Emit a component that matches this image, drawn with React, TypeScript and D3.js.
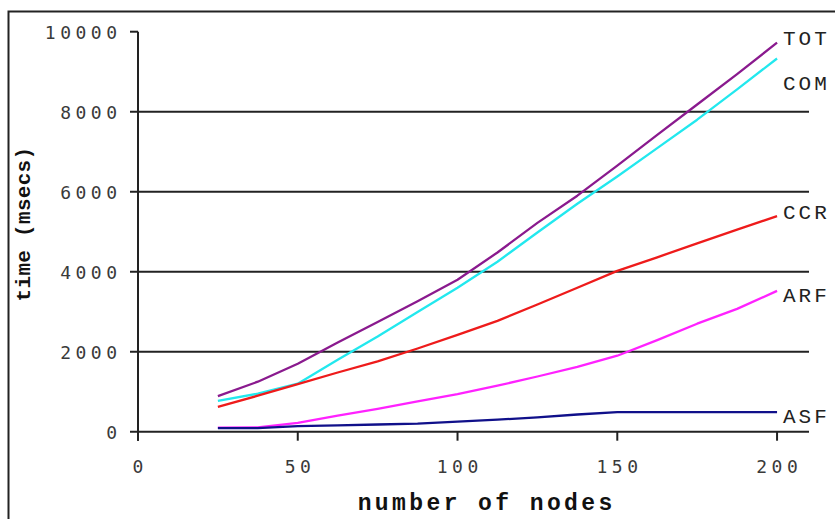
import { useEffect, useRef } from 'react';
import * as d3 from 'd3';

// number of nodes
const nodes = [25, 37.5, 50, 62.5, 75, 87.5, 100, 112.5, 125, 137.5, 150, 162.5, 175, 187.5, 200];

// time (msecs) per series
const tot = [890, 1250, 1700, 2230, 2740, 3260, 3800, 4480, 5220, 5900, 6650, 7420, 8180, 8940, 9725];
const com = [770, 950, 1200, 1800, 2380, 2990, 3600, 4250, 4980, 5700, 6380, 7090, 7800, 8560, 9330];
const ccr = [620, 900, 1190, 1480, 1760, 2080, 2420, 2770, 3180, 3600, 4020, 4360, 4710, 5050, 5390];
const arf = [100, 110, 220, 400, 570, 760, 940, 1150, 1380, 1620, 1900, 2290, 2700, 3070, 3520];
const asf = [90, 90, 140, 160, 180, 200, 250, 300, 360, 430, 490, 490, 490, 490, 490];

const seriesNames = ['TOT', 'COM', 'CCR', 'ARF', 'ASF'];
const seriesValues = [tot, com, ccr, arf, asf];
const seriesColors = ['#8a1a8e', '#22e8ee', '#ee1b1b', '#ff22ff', '#10108a'];
// where the end labels sit (in msecs), nudged apart like the original
const labelAt = [9870, 8740, 5520, 3440, 420];

const yTicks = [0, 2000, 4000, 6000, 8000, 10000];
const xTicks = [0, 50, 100, 150, 200];

const W = 835;
const H = 519;

export default function App() {
  const svgRef = useRef<SVGSVGElement>(null);

  useEffect(() => {
    if (!svgRef.current) return;
    const svg = d3.select(svgRef.current);
    svg.selectAll('*').remove();

    const x = d3.scaleLinear().domain([0, 210]).range([138, 809]);
    const y = d3.scaleLinear().domain([0, 10000]).range([431.7, 31.7]);

    // outer frame
    svg.append('rect')
      .attr('x', 8.5).attr('y', 11.5)
      .attr('width', 900).attr('height', 600)
      .attr('fill', '#fff')
      .attr('stroke', '#222')
      .attr('stroke-width', 2);

    const tickFont = '"DejaVu Sans Mono", monospace';
    const ls = 4.5;

    // horizontal grid + y ticks
    yTicks.forEach(t => {
      svg.append('line')
        .attr('x1', 130)
        .attr('x2', t === 10000 ? x(0) : x(210))
        .attr('y1', y(t)).attr('y2', y(t))
        .attr('stroke', '#222')
        .attr('stroke-width', 2);
      svg.append('text')
        .attr('x', 117 + ls)
        .attr('y', y(t) + 7)
        .attr('text-anchor', 'end')
        .attr('font-family', tickFont)
        .attr('font-size', 18)
        .attr('letter-spacing', ls)
        .attr('fill', '#3a3a3a')
        .text(t);
    });

    // y axis line
    svg.append('line')
      .attr('x1', x(0)).attr('x2', x(0))
      .attr('y1', y(10000)).attr('y2', y(0) + 9)
      .attr('stroke', '#222')
      .attr('stroke-width', 2);

    // x ticks
    xTicks.forEach(t => {
      svg.append('line')
        .attr('x1', x(t)).attr('x2', x(t))
        .attr('y1', y(0)).attr('y2', y(0) + 9)
        .attr('stroke', '#222')
        .attr('stroke-width', 2);
      svg.append('text')
        .attr('x', x(t) + ls / 2)
        .attr('y', 473)
        .attr('text-anchor', 'middle')
        .attr('font-family', tickFont)
        .attr('font-size', 18)
        .attr('letter-spacing', ls)
        .attr('fill', '#3a3a3a')
        .text(t);
    });

    // series lines
    const line = d3.line<number>()
      .x((d, i) => x(nodes[i]))
      .y(d => y(d));

    seriesValues.forEach((vals, k) => {
      svg.append('path')
        .datum(vals)
        .attr('d', line)
        .attr('fill', 'none')
        .attr('stroke', seriesColors[k])
        .attr('stroke-width', 2.3)
        .attr('stroke-linejoin', 'round');
    });

    // end labels
    seriesNames.forEach((name, k) => {
      svg.append('text')
        .attr('x', 783)
        .attr('y', y(labelAt[k]) + 8)
        .attr('font-family', '"Courier New", "Liberation Mono", monospace')
        .attr('font-size', 21)
        .attr('letter-spacing', 3)
        .attr('fill', '#222')
        .text(name);
    });

    // axis titles
    svg.append('text')
      .attr('x', 485 + 1.7)
      .attr('y', 510)
      .attr('text-anchor', 'middle')
      .attr('font-family', '"Courier New", "Liberation Mono", monospace')
      .attr('font-weight', 'bold')
      .attr('font-size', 23)
      .attr('letter-spacing', 3.4)
      .attr('fill', '#111')
      .text('number of nodes');

    svg.append('text')
      .attr('transform', 'translate(30,224) rotate(-90)')
      .attr('text-anchor', 'middle')
      .attr('font-family', '"Courier New", "Liberation Mono", monospace')
      .attr('font-weight', 'bold')
      .attr('font-size', 21)
      .attr('letter-spacing', 0.3)
      .attr('fill', '#111')
      .text('time (msecs)');
  }, []);

  return (
    <svg
      ref={svgRef}
      width={W}
      height={H}
      style={{ position: 'absolute', left: 0, top: 0, background: '#fff' }}
    />
  );
}
